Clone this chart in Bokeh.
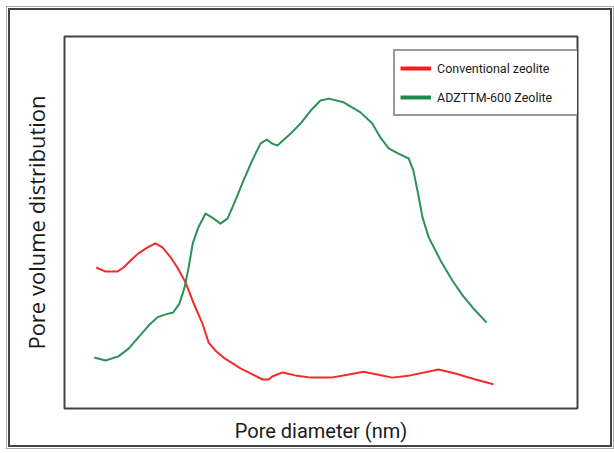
from bokeh.plotting import figure
from bokeh.models import Range1d, Legend, LegendItem, FixedTicker
from bokeh.embed import file_html
from bokeh.resources import INLINE

# Pore diameter (arbitrary scale, no ticks shown) and pore volume distribution (relative units)
conv_x = [6.2, 8.0, 10.3, 11.5, 12.9, 14.4, 16.2, 17.7, 19.1, 20.7, 22.0, 23.6, 25.1, 26.9,
          28.1, 29.4, 31.0, 34.3, 38.6, 39.8, 40.5, 42.5, 45.0, 48.0, 51.9, 55.2, 58.3, 61.2,
          63.9, 67.4, 72.9, 76.2, 80.1, 83.6]
conv_y = [37.9, 36.8, 36.8, 37.9, 39.8, 41.7, 43.3, 44.4, 43.3, 40.6, 37.9, 33.9, 28.5, 22.8,
          17.7, 15.6, 13.7, 10.8, 7.8, 7.8, 8.6, 9.7, 8.9, 8.3, 8.3, 9.1, 9.9, 9.1,
          8.3, 8.9, 10.5, 9.4, 7.8, 6.5]

adz_x = [5.8, 8.0, 10.5, 12.5, 14.4, 16.4, 18.1, 19.7, 21.2, 22.4, 23.4, 24.2, 25.0, 26.1,
         27.5, 28.8, 30.4, 31.8, 33.3, 34.9, 36.6, 38.2, 39.4, 40.5, 41.5, 44.1, 46.0, 48.0,
         49.9, 51.5, 54.4, 57.7, 60.0, 61.6, 63.2, 65.1, 67.1, 68.0, 68.8, 69.8, 71.0, 73.3,
         75.6, 77.6, 79.9, 82.3]
adz_y = [13.7, 12.9, 14.0, 16.1, 19.1, 22.3, 24.5, 25.3, 25.8, 28.2, 32.5, 37.9, 44.4, 48.7,
         52.4, 51.3, 49.7, 51.1, 55.9, 61.3, 66.7, 71.2, 72.3, 71.2, 70.7, 73.9, 76.6, 80.1,
         82.8, 83.3, 82.3, 79.6, 76.6, 72.8, 69.9, 68.5, 67.2, 64.0, 58.6, 51.3, 46.0, 39.8,
         34.4, 30.4, 26.6, 23.1]

series_names = ["Conventional zeolite", "ADZTTM-600 Zeolite"]

RED = "#f52a2a"
GREEN = "#2a9257"

p = figure(frame_width=513, frame_height=372,
           x_range=Range1d(0, 100), y_range=Range1d(0, 100),
           output_backend="svg", toolbar_location=None,
           min_border_left=54, min_border_right=33,
           min_border_top=26, min_border_bottom=35)

p.styles = {"margin": "8px 0 0 8px", "border": "2px solid #444",
            "outline": "1px solid #aaa", "outline-offset": "1px"}

p.grid.visible = False
p.outline_line_color = "#444"
p.outline_line_width = 2
p.background_fill_color = "white"
p.border_fill_color = "white"

for ax in p.axis:
    ax.ticker = FixedTicker(ticks=[])
    ax.axis_line_color = None
    ax.major_tick_line_color = None
    ax.minor_tick_line_color = None
    ax.major_label_text_font_size = "0px"
    ax.major_tick_out = 0
    ax.major_tick_in = 0
    ax.minor_tick_out = 0
    ax.minor_tick_in = 0
    ax.major_label_standoff = 0
    ax.axis_label_text_font_style = "normal"
    ax.axis_label_text_color = "#1a1a1a"

p.xaxis.axis_label = "Pore diameter (nm)"
p.xaxis.axis_label_text_font = "Roboto"
p.xaxis.axis_label_text_font_size = "20px"
p.xaxis.axis_label_standoff = 10

p.yaxis.axis_label = "Pore volume distribution"
p.yaxis.axis_label_text_font = "Open Sans"
p.yaxis.axis_label_text_font_size = "22px"
p.yaxis.axis_label_standoff = 14

p.line(conv_x, conv_y, line_color=RED, line_width=2, line_join="round")
p.line(adz_x, adz_y, line_color=GREEN, line_width=2, line_join="round")

# legend proxies (thicker legend swatches, no visible data)
nan = float("nan")
leg_r = p.line(x=[nan, nan], y=[nan, nan], line_color="#ff1a1a", line_width=4)
leg_g = p.line(x=[nan, nan], y=[nan, nan], line_color="#1e8a4c", line_width=4)

legend = Legend(items=[LegendItem(label=series_names[0], renderers=[leg_r]),
                       LegendItem(label=series_names[1], renderers=[leg_g])],
                location=(329, 292))
legend.margin = 0
legend.padding = 5
legend.spacing = 5
legend.glyph_width = 31
legend.glyph_height = 24
legend.label_height = 24
legend.label_width = 136
legend.label_standoff = 6
legend.label_text_font = "Roboto"
legend.label_text_font_size = "12.5px"
legend.label_text_color = "#1a1a1a"
legend.border_line_color = "#333"
legend.border_line_width = 2
legend.background_fill_color = "white"
legend.background_fill_alpha = 1
p.add_layout(legend)

open("out.html", "w").write(file_html(p, INLINE))
